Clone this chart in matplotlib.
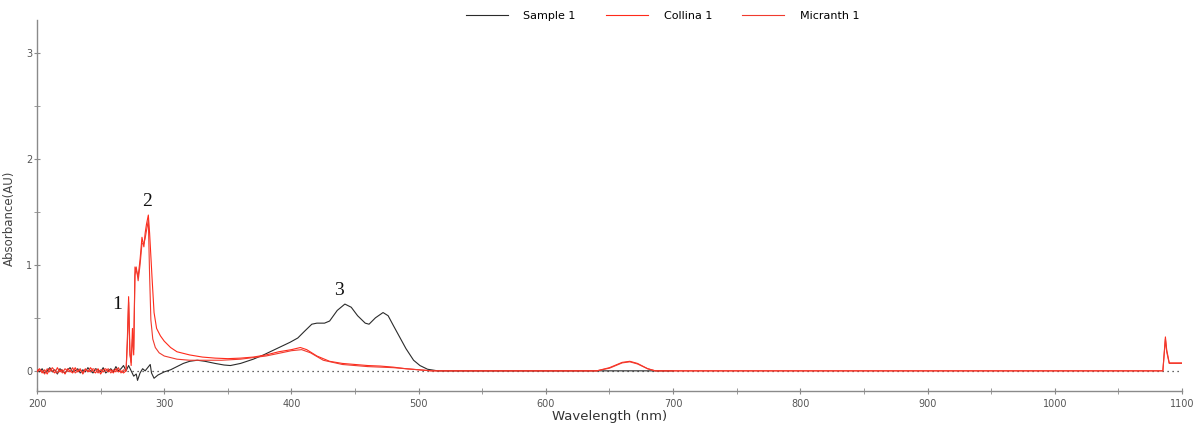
import matplotlib
matplotlib.use("Agg")
import matplotlib.pyplot as plt
from matplotlib.ticker import MultipleLocator

# ---- data ----
noise_wl = [200, 202, 204, 206, 208, 210, 212, 214, 216, 218, 220, 222, 224, 226,
            228, 230, 232, 234, 236, 238, 240, 242, 244, 246, 248, 250, 252, 254,
            256, 258, 260, 262, 264, 266, 268]
sample_noise = [0.01, -0.01, 0.02, -0.02, 0.0, 0.03, -0.01, 0.01, -0.03, 0.02,
                0.0, -0.02, 0.01, 0.03, -0.01, 0.0, 0.02, -0.02, 0.01, -0.01,
                0.03, 0.0, -0.02, 0.02, 0.01, -0.01, 0.03, -0.02, 0.0, 0.02,
                -0.01, 0.04, 0.0, 0.02, 0.05]
collina_noise = [0.0, 0.02, -0.02, 0.01, -0.03, 0.02, 0.0, -0.02, 0.03, -0.01,
                 0.01, -0.03, 0.02, 0.0, -0.02, 0.03, -0.01, 0.01, -0.02, 0.02,
                 -0.01, 0.03, 0.0, -0.02, 0.02, -0.03, 0.01, 0.02, -0.01, 0.01,
                 -0.02, 0.02, -0.01, 0.0, -0.02]
micranth_noise = [-0.01, 0.01, 0.0, -0.03, 0.02, -0.01, 0.03, 0.0, -0.02, 0.01,
                  -0.02, 0.02, 0.0, -0.01, 0.03, -0.02, 0.0, 0.02, -0.03, 0.01,
                  0.0, -0.01, 0.02, 0.01, -0.02, 0.01, -0.01, 0.0, 0.02, -0.02,
                  0.01, -0.01, 0.03, -0.02, 0.01]

sample_wl = [270, 272, 274, 276, 278, 279, 281, 283, 285, 287, 289, 290, 292, 295,
             300, 305, 310, 315, 320, 326, 332, 340, 347, 352, 360, 370, 378, 385,
             392, 399, 405, 410, 416, 420, 426, 430, 436, 442, 447, 452, 458, 461,
             466, 472, 476, 480, 485, 490, 496, 501, 507, 515, 700]
sample_abs = [0.0, 0.05, 0.0, -0.05, -0.03, -0.09, -0.02, 0.02, 0.0, 0.03, 0.06,
              -0.02, -0.07, -0.04, -0.01, 0.01, 0.04, 0.07, 0.09, 0.1, 0.09, 0.07,
              0.055, 0.05, 0.07, 0.11, 0.15, 0.19, 0.23, 0.27, 0.31, 0.37, 0.44,
              0.45, 0.45, 0.47, 0.57, 0.63, 0.6, 0.52, 0.45, 0.44, 0.5, 0.55, 0.52,
              0.43, 0.32, 0.21, 0.1, 0.05, 0.015, 0.0, 0.0]

collina_wl = [270, 271, 272, 273, 274, 275, 276, 277, 278, 279.5, 281, 282.5, 284,
              285, 286, 287.5, 288.5, 290.5, 292, 294, 297, 300, 305, 310, 320,
              330, 340, 350, 360, 370, 380, 390, 400, 407, 412, 420, 430, 440, 450,
              460, 470, 480, 490, 500, 510, 640, 650, 660, 666, 672, 680, 686, 1085,
              1087, 1088, 1090, 1100]
collina_abs = [0.0, 0.3, 0.7, 0.2, 0.05, 0.4, 0.15, 0.98, 0.95, 0.89, 1.05, 1.26,
               1.17, 1.3, 1.38, 1.47, 1.3, 0.86, 0.55, 0.4, 0.33, 0.28, 0.22, 0.18,
               0.15, 0.13, 0.12, 0.115, 0.12, 0.13, 0.15, 0.18, 0.2, 0.22, 0.2,
               0.14, 0.09, 0.07, 0.06, 0.05, 0.045, 0.035, 0.02, 0.01, 0.0, 0.0,
               0.03, 0.08, 0.09, 0.07, 0.02, 0.0, 0.0, 0.32, 0.2, 0.075, 0.075]

micranth_wl = [270, 271, 272, 273, 274, 275, 276, 277, 278, 279.5, 281, 282.5, 284,
               285, 286, 287.5, 288.5, 289.5, 291, 293, 296, 300, 310, 320, 330,
               345, 360, 380, 400, 408, 415, 425, 440, 450, 460, 470, 480, 490, 500,
               510, 640, 650, 660, 666, 672, 680, 686, 1085, 1087, 1088, 1090, 1100]
micranth_abs = [0.0, 0.25, 0.65, 0.15, 0.08, 0.3, 0.2, 0.9, 0.98, 0.85, 1.0, 1.2,
                1.2, 1.25, 1.32, 1.42, 0.9, 0.48, 0.3, 0.22, 0.17, 0.14, 0.11, 0.1,
                0.1, 0.1, 0.11, 0.14, 0.19, 0.2, 0.17, 0.1, 0.06, 0.05, 0.04, 0.035,
                0.03, 0.02, 0.01, 0.0, 0.0, 0.025, 0.075, 0.085, 0.065, 0.02, 0.0,
                0.0, 0.3, 0.18, 0.07, 0.07]

annotations = [("1", 263, 0.63), ("2", 286.5, 1.6), ("3", 437.5, 0.755)]

TICK_C = "#555555"
SPINE_C = "#8a8a8a"

fig = plt.figure(figsize=(11.98, 4.23), dpi=100)
ax = fig.add_axes([0.0309, 0.0757, 0.9557, 0.877])

ax.axhline(0, color="#333333", linewidth=0.9, linestyle=(0, (1, 3)), zorder=1)

ax.plot(noise_wl + sample_wl, sample_noise + sample_abs,
        color="#2b2b2b", linewidth=0.8, label="Sample 1", zorder=2)
ax.plot(noise_wl + collina_wl, collina_noise + collina_abs,
        color="#ff2a1a", linewidth=0.8, label="Collina 1", zorder=3)
ax.plot(noise_wl + micranth_wl, micranth_noise + micranth_abs,
        color="#f03a2e", linewidth=0.8, label="Micranth 1", zorder=3)

for txt, x, y in annotations:
    ax.text(x, y, txt, family="Liberation Serif", fontsize=14,
            ha="center", va="center", color="#111111")

ax.set_xlim(200, 1100)
ax.set_ylim(-0.19, 3.31)
ax.xaxis.set_major_locator(MultipleLocator(100))
ax.xaxis.set_minor_locator(MultipleLocator(50))
ax.yaxis.set_major_locator(MultipleLocator(1))
ax.yaxis.set_minor_locator(MultipleLocator(0.5))

for side in ("top", "right"):
    ax.spines[side].set_visible(False)
for side in ("left", "bottom"):
    ax.spines[side].set_color(SPINE_C)
    ax.spines[side].set_linewidth(1.0)

ax.tick_params(which="both", direction="inout", colors=SPINE_C, labelcolor=TICK_C,
               labelsize=7)
ax.tick_params(which="major", length=5)
ax.tick_params(which="minor", length=4)
ax.tick_params(axis="y", pad=1)
ax.tick_params(axis="x", pad=3)

ax.set_xlabel("Wavelength (nm)", fontsize=9.5, color="#333333", labelpad=1)
ax.set_ylabel("Absorbance(AU)", fontsize=8.5, color="#444444")
ax.yaxis.set_label_coords(-0.0183, 0.466)

fig.legend(loc="center", bbox_to_anchor=(0.553, 0.963), ncol=3, frameon=False,
           fontsize=8, handlelength=3.8, handletextpad=1.4, columnspacing=2.7)

fig.savefig("out.png", dpi=100)
